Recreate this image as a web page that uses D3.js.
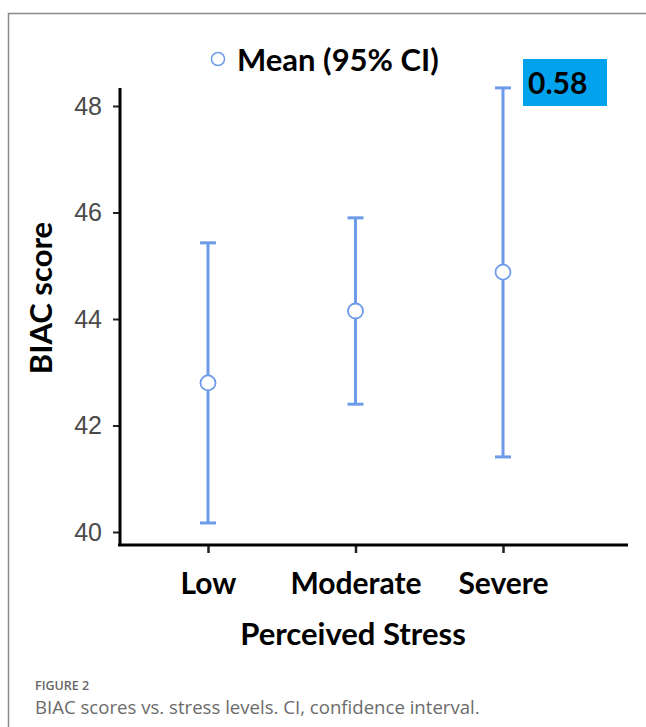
<!DOCTYPE html>
<html>
<head>
<meta charset="utf-8">
<script src="https://cdn.jsdelivr.net/npm/d3@7"></script>
<style>
  body { margin: 0; background: #fff; }
</style>
</head>
<body>
<div id="chart"></div>
<script>
// data
const categories = ["Low", "Moderate", "Severe"];
const means = [42.80, 44.15, 44.88];
const lowerCI = [40.17, 42.40, 41.41];
const upperCI = [45.43, 45.90, 48.34];
const yTicks = [40, 42, 44, 46, 48];
const pValue = "0.58";

const blue = "#6d9bea";
const boldFont = "Lato, 'Open Sans', sans-serif";

const dimensions = {
    width: 646,
    height: 727,
};

const chart = d3.select("#chart")
    .append("svg")
    .attr("width", dimensions.width)
    .attr("height", dimensions.height);

// frame (top + left border)
chart.append("path")
    .attr("d", "M8.5,727 L8.5,13.5 L646,13.5")
    .attr("fill", "none")
    .attr("stroke", "#8a8a8a")
    .attr("stroke-width", 1.5);

// scales
const y = d3.scaleLinear()
    .domain([40, 48])
    .range([532, 106]);

const x = d3.scalePoint()
    .domain(categories)
    .range([208, 503]);

// y axis
const yAxis = chart.append("g")
    .attr("transform", "translate(120,0)")
    .call(d3.axisLeft(y).tickValues(yTicks).tickSize(7).tickPadding(11));
yAxis.select(".domain").remove();
yAxis.selectAll(".tick line").attr("stroke", "#222").attr("stroke-width", 2);
yAxis.selectAll(".tick text")
    .attr("fill", "#4a4a4a")
    .style("font-family", "'Liberation Sans', Arial, sans-serif")
    .style("font-size", "25px");

chart.append("line")
    .attr("x1", 120).attr("x2", 120)
    .attr("y1", 88).attr("y2", 546)
    .attr("stroke", "#000").attr("stroke-width", 3);

// x axis
const xAxis = chart.append("g")
    .attr("transform", "translate(0,545)")
    .call(d3.axisBottom(x).tickSize(8).tickPadding(20));
xAxis.select(".domain").remove();
xAxis.selectAll(".tick line").attr("stroke", "#222").attr("stroke-width", 2.5);
xAxis.selectAll(".tick text")
    .attr("fill", "#000")
    .style("font-family", boldFont)
    .style("font-weight", "bold")
    .style("font-size", "30px");

chart.append("line")
    .attr("x1", 118).attr("x2", 628)
    .attr("y1", 545).attr("y2", 545)
    .attr("stroke", "#000").attr("stroke-width", 3);

// error bars
const rows = categories.map((c, i) => ({ c, m: means[i], lo: lowerCI[i], hi: upperCI[i] }));

const bars = chart.append("g").selectAll("g")
    .data(rows)
    .join("g");

bars.append("line")
    .attr("x1", d => x(d.c)).attr("x2", d => x(d.c))
    .attr("y1", d => y(d.lo)).attr("y2", d => y(d.hi))
    .attr("stroke", blue).attr("stroke-width", 3);

bars.append("line")
    .attr("x1", d => x(d.c) - 8).attr("x2", d => x(d.c) + 8)
    .attr("y1", d => y(d.hi)).attr("y2", d => y(d.hi))
    .attr("stroke", blue).attr("stroke-width", 3);

bars.append("line")
    .attr("x1", d => x(d.c) - 8).attr("x2", d => x(d.c) + 8)
    .attr("y1", d => y(d.lo)).attr("y2", d => y(d.lo))
    .attr("stroke", blue).attr("stroke-width", 3);

bars.append("circle")
    .attr("cx", d => x(d.c))
    .attr("cy", d => y(d.m))
    .attr("r", 7.5)
    .attr("fill", "#fff")
    .attr("stroke", blue)
    .attr("stroke-width", 1.8);

// legend
chart.append("circle")
    .attr("cx", 218).attr("cy", 59).attr("r", 6.5)
    .attr("fill", "#fff").attr("stroke", blue).attr("stroke-width", 1.5);

chart.append("text")
    .attr("x", 237).attr("y", 71)
    .style("font-family", boldFont)
    .style("font-weight", "bold")
    .style("font-size", "31px")
    .text("Mean (95% CI)");

// p value box
chart.append("rect")
    .attr("x", 523).attr("y", 59)
    .attr("width", 84).attr("height", 47)
    .attr("fill", "#02a3ec");

chart.append("text")
    .attr("x", 528).attr("y", 94)
    .style("font-family", boldFont)
    .style("font-weight", "bold")
    .style("font-size", "30px")
    .text(pValue);

// axis titles
chart.append("text")
    .attr("transform", "translate(52,298) rotate(-90)")
    .attr("text-anchor", "middle")
    .style("font-family", boldFont)
    .style("font-weight", "bold")
    .style("font-size", "31px")
    .text("BIAC score");

chart.append("text")
    .attr("x", 353).attr("y", 645)
    .attr("text-anchor", "middle")
    .style("font-family", boldFont)
    .style("font-weight", "bold")
    .style("font-size", "31px")
    .text("Perceived Stress");

// caption
chart.append("text")
    .attr("x", 35).attr("y", 690)
    .attr("fill", "#666")
    .style("font-family", "'Open Sans', sans-serif")
    .style("font-weight", "600")
    .style("font-size", "12.5px")
    .text("FIGURE 2");

chart.append("text")
    .attr("x", 35).attr("y", 714)
    .attr("fill", "#6b6b6b")
    .style("font-family", "'Open Sans', sans-serif")
    .style("font-size", "18.6px")
    .text("BIAC scores vs. stress levels. CI, confidence interval.");
</script>
</body>
</html>
